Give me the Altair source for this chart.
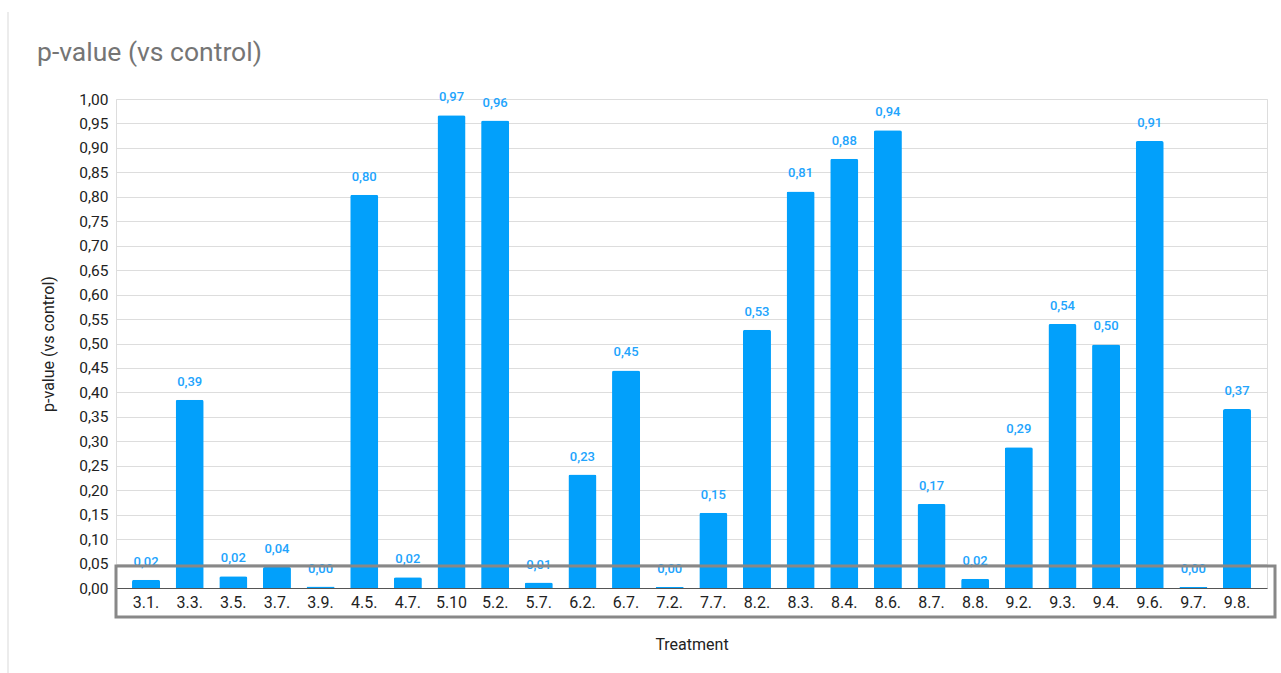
import altair as alt
import pandas as pd

treatments = ["3.1.", "3.3.", "3.5.", "3.7.", "3.9.", "4.5.", "4.7.", "5.10", "5.2.", "5.7.",
              "6.2.", "6.7.", "7.2.", "7.7.", "8.2.", "8.3.", "8.4.", "8.6.", "8.7.", "8.8.",
              "9.2.", "9.3.", "9.4.", "9.6.", "9.7.", "9.8."]
pvalues = [0.017, 0.385, 0.024, 0.043, 0.003, 0.804, 0.022, 0.967, 0.956, 0.011,
           0.232, 0.445, 0.002, 0.154, 0.528, 0.811, 0.878, 0.936, 0.172, 0.019,
           0.288, 0.540, 0.498, 0.914, 0.002, 0.366]
title_text = "p-value (vs control)"

df = pd.DataFrame({"Treatment": treatments, "p": pvalues})

W, H = 1151, 489
FONT = "Roboto"
BLUE = "#02a0fb"

yaxis = alt.Axis(values=[round(i / 20, 2) for i in range(21)],
                 labelExpr="replace(format(datum.value, '.2f'), '.', ',')",
                 labelFontSize=15.5, labelColor="#222222", labelFont=FONT,
                 labelPadding=8, labelOverlap=False, ticks=False, domain=False,
                 gridColor="#dddddd", gridWidth=1,
                 titleFont=FONT, titleFontSize=16, titleFontWeight="normal",
                 titleColor="#222222", titlePadding=22)

base = alt.Chart(df).encode(
    x=alt.X("Treatment:N", sort=treatments, title="Treatment",
            scale=alt.Scale(paddingInner=0.358, paddingOuter=0.367),
            axis=alt.Axis(labelAngle=0, labelFontSize=16, labelColor="#222222",
                          labelFont=FONT, labelPadding=6, ticks=False,
                          domainColor="#555555", domainWidth=1.2,
                          titleFont=FONT, titleFontSize=16, titleFontWeight="normal",
                          titleColor="#222222", titlePadding=26)),
    y=alt.Y("p:Q", title=title_text, scale=alt.Scale(domain=[0, 1], nice=False), axis=yaxis),
)

bars = base.mark_bar(color=BLUE, cornerRadiusTopLeft=2, cornerRadiusTopRight=2)

labels = base.transform_calculate(
    lab="replace(format(datum.p, '.2f'), '.', ',')"
).mark_text(color="#22a4fd", fontSize=13, font=FONT, fontWeight=500, dy=-11,
            baseline="bottom").encode(text="lab:N")

one = pd.DataFrame({"t": [title_text]})

title = alt.Chart(one).mark_text(align="left", baseline="middle", font=FONT, fontSize=26.5,
                                 color="#757575").encode(
    x=alt.value(-79), y=alt.value(-46), text="t:N"
)

box = alt.Chart(one).mark_rect(filled=False, stroke="#888888", strokeWidth=3).encode(
    x=alt.value(0), x2=alt.value(1159), y=alt.value(467), y2=alt.value(518)
)

border = alt.Chart(one).mark_rule(color="#e6e6e6", strokeWidth=1.5).encode(
    x=alt.value(-108), y=alt.value(-87), y2=alt.value(600)
)

chart = alt.layer(border, bars, labels, box, title).properties(
    width=W, height=H,
    autosize=alt.AutoSizeParams(type="none"),
    padding={"left": 116, "top": 99, "right": 14, "bottom": 85},
).configure_view(stroke=None).configure(background="white")

chart.save("out.html", embed_options={"renderer": "svg", "actions": False})
